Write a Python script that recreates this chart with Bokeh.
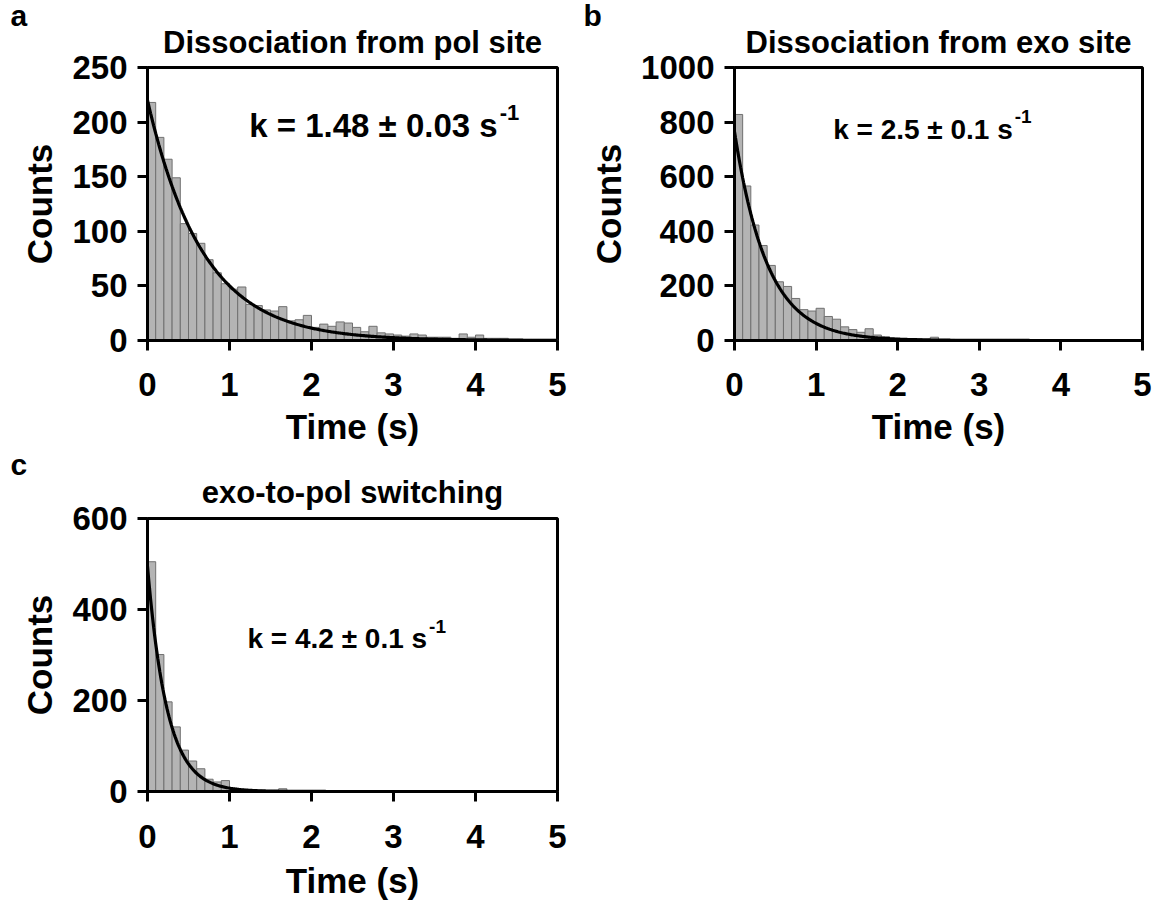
import numpy as np
from bokeh.plotting import figure
from bokeh.layouts import column, row
from bokeh.models import Label, FixedTicker, Range1d, Title
from bokeh.embed import file_html
from bokeh.resources import INLINE

FONT = "Liberation Sans"

bin_width = 0.1
counts_pol = [218, 186, 166, 149, 107, 98, 89, 74, 62, 52, 47, 49, 33, 32, 28, 27, 31, 18, 19, 23,
              12, 15, 13, 17, 16, 12, 8, 13, 7, 6, 5, 4, 6, 5, 3, 3, 3, 2, 6, 3,
              5, 2, 2, 2, 1, 1, 1, 1, 1, 1]
counts_exo = [828, 566, 423, 348, 275, 215, 198, 154, 113, 108, 118, 88, 78, 50, 40, 30, 43, 20, 14, 8,
              4, 3, 7, 4, 12, 4, 4, 2, 2, 1, 1, 1, 1, 1, 1, 0, 0, 1, 0, 0,
              0, 0, 0, 0, 0, 0, 0, 0, 0, 0]
counts_switch = [505, 301, 197, 142, 91, 67, 50, 27, 21, 24, 7, 5, 3, 3, 2, 2, 6, 2, 1, 1,
                 1, 1, 0, 0, 0, 0, 0, 0, 0, 0, 0, 0, 0, 0, 0, 0, 0, 0, 0, 0,
                 0, 0, 0, 0, 0, 0, 0, 0, 0, 0]

fit_amp = [220, 765, 495]
fit_k = [1.48, 2.5, 4.2]
titles = ["Dissociation from pol site", "Dissociation from exo site", "exo-to-pol switching"]
k_texts = ["k = 1.48 \u00b1 0.03 s", "k = 2.5 \u00b1 0.1 s", "k = 4.2 \u00b1 0.1 s"]
letters = ["a", "b", "c"]
y_max = [250, 1000, 600]
y_ticks = [[0, 50, 100, 150, 200, 250], [0, 200, 400, 600, 800, 1000], [0, 200, 400, 600]]
x_ticks = [0, 1, 2, 3, 4, 5]

# (width, height, border_left, border_right, border_top, border_bottom)
layout = [
    (575, 448, 147, 18, 67, 108),
    (578, 448, 159, 11, 67, 108),
    (575, 454, 147, 18, 70, 111),
]
letter_offset = [-137, -151, -137]
title_standoff = [16, 16, 18]
letter_standoff = [-34, -34, -34]
xtick_standoff = [22, 22, 23]
xlabel_standoff = [8, 8, 10]
# annotation positions (data units) and sizes
k_pos = [(4.27, 197), (3.41, 773), (3.41, 336)]
k_size = ["33px", "28px", "28px"]
sup_size = ["22px", "19px", "19px"]
sup_dy = [12, 46, 27]


def make_panel(i, counts):
    w, h, bl, br, bt, bb = layout[i]
    p = figure(width=w, height=h, output_backend="svg", toolbar_location=None,
               x_range=Range1d(0, 5), y_range=Range1d(0, y_max[i]),
               min_border_left=bl, min_border_right=br, min_border_top=bt, min_border_bottom=bb)
    # outermost: panel letter
    p.title.text = letters[i]
    p.title.align = "left"
    p.title.offset = letter_offset[i]
    p.title.text_font = FONT
    p.title.text_font_size = "30px"
    p.title.text_font_style = "bold"
    p.title.text_color = "black"
    p.title.standoff = letter_standoff[i]
    # innermost: panel title
    p.add_layout(Title(text=titles[i], align="center", text_font=FONT, text_font_size="31px",
                       text_font_style="bold", text_color="black", standoff=title_standoff[i]), "above")

    p.grid.visible = False
    p.outline_line_color = "black"
    p.outline_line_width = 3
    p.outline_line_alpha = 1.0
    p.background_fill_color = "white"
    p.border_fill_color = "white"

    edges = np.arange(len(counts) + 1) * bin_width
    p.quad(left=edges[:-1], right=edges[1:], bottom=0, top=counts,
           fill_color="#b4b4b4", line_color="#707070", line_width=1)

    t = np.linspace(0, 5, 400)
    p.line(t, fit_amp[i] * np.exp(-fit_k[i] * t), line_color="black", line_width=3.2)

    for ax in (p.xaxis[0], p.yaxis[0]):
        ax.axis_line_width = 3
        ax.major_tick_line_width = 3
        ax.major_tick_out = 10
        ax.major_tick_in = 0
        ax.minor_tick_line_color = None
        ax.major_label_text_font = FONT
        ax.major_label_text_font_size = "33px"
        ax.major_label_text_font_style = "bold"
        ax.major_label_text_color = "black"
        ax.axis_label_text_font = FONT
        ax.axis_label_text_font_size = "35px"
        ax.axis_label_text_font_style = "bold"
        ax.axis_label_text_color = "black"
    p.xaxis.ticker = FixedTicker(ticks=x_ticks)
    p.yaxis.ticker = FixedTicker(ticks=y_ticks[i])
    p.xaxis.axis_label = "Time (s)"
    p.yaxis.axis_label = "Counts"
    p.xaxis.axis_label_standoff = xlabel_standoff[i]
    p.yaxis.axis_label_standoff = 10
    p.xaxis.major_label_standoff = xtick_standoff[i]
    p.yaxis.major_label_standoff = 10

    kx, ky = k_pos[i]
    p.add_layout(Label(x=kx, y=ky, text=k_texts[i], text_align="right", text_baseline="alphabetic",
                       text_font=FONT, text_font_size=k_size[i], text_font_style="bold",
                       text_color="black"))
    p.add_layout(Label(x=kx, y=ky + sup_dy[i], text="-1", text_align="left", text_baseline="alphabetic",
                       x_offset=2, text_font=FONT, text_font_size=sup_size[i], text_font_style="bold",
                       text_color="black"))
    return p


pa = make_panel(0, counts_pol)
pb = make_panel(1, counts_exo)
pc = make_panel(2, counts_switch)

page = column(row(pa, pb), row(pc))
open("out.html", "w").write(file_html(page, INLINE))
